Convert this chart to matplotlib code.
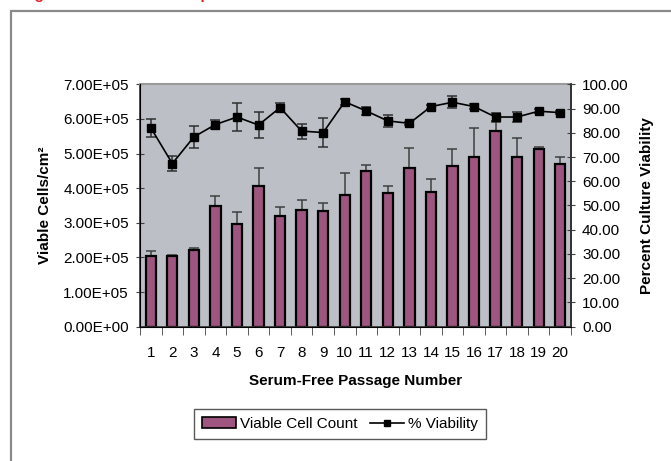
import numpy as np
import matplotlib.pyplot as plt
from matplotlib.patches import Patch, Rectangle
from matplotlib.lines import Line2D

plt.rcParams['font.family'] = ['Liberation Sans', 'DejaVu Sans']

passages = list(range(1, 21))
cells = [2.03, 2.03, 2.21, 3.48, 2.98, 4.05, 3.21, 3.36, 3.33, 3.79,
         4.51, 3.85, 4.59, 3.88, 4.63, 4.91, 5.64, 4.91, 5.12, 4.70]
cells_err = [0.16, 0.05, 0.07, 0.29, 0.34, 0.54, 0.26, 0.30, 0.25, 0.66,
             0.16, 0.22, 0.56, 0.38, 0.49, 0.84, 0.26, 0.55, 0.07, 0.19]
viab = [82.1, 67.3, 78.3, 83.4, 86.5, 83.2, 90.4, 80.7, 80.1, 92.8,
        89.0, 84.9, 83.9, 90.8, 92.6, 90.8, 86.5, 86.5, 88.9, 88.3]
viab_err = [3.7, 3.1, 4.4, 1.8, 5.6, 5.4, 1.9, 3.1, 5.9, 1.2,
            1.5, 2.4, 0.5, 0.8, 2.5, 1.0, 1.5, 2.0, 0.8, 0.7]
left_ticks = [0, 1e5, 2e5, 3e5, 4e5, 5e5, 6e5, 7e5]
right_ticks = [0, 10, 20, 30, 40, 50, 60, 70, 80, 90, 100]

bar_color = '#9e5580'
bg_color = '#bcc0c6'
fs = 11

fig = plt.figure(figsize=(6.71, 4.61), dpi=100)

# outer frame of the pasted figure
fig.patches.append(Rectangle((11 / 671, -0.1), 1.2, 1 - 11 / 461 + 0.1,
                             transform=fig.transFigure, fill=False,
                             edgecolor='#8a8a8a', linewidth=1.6))
# caption above, cut off by the crop: only descenders show
fig.text(21 / 671, 1 + 1.5 / 461, 'Figure 2. Serum-free adaptation',
         color='#e8202a', fontsize=11, fontweight='bold', va='baseline',
         ha='left')

ax = fig.add_axes([140 / 671, 1 - 326.7 / 461, 431 / 671, 242.4 / 461])
ax.set_facecolor(bg_color)
x = np.array(passages)
cells_v = np.array(cells) * 1e5
ax.bar(x, cells_v, width=0.48, color=bar_color, edgecolor='black',
       linewidth=1.6, zorder=2)
ax.errorbar(x, cells_v, yerr=[np.zeros(20), np.array(cells_err) * 1e5],
            fmt='none', ecolor='#404040', elinewidth=1.1, capsize=3.5,
            capthick=1.1, zorder=1.5)
ax.set_ylim(0, 7e5)
ax.set_xlim(0.5, 20.5)
ax.set_yticks(left_ticks)
ax.set_yticklabels(['%.2fE+%02d' % (v / 1e5 if v else 0, 5 if v else 0)
                    for v in left_ticks], fontsize=fs)
ax.set_xticks(passages)
ax.set_xticklabels([str(p) for p in passages], fontsize=fs)
ax.tick_params(axis='x', length=0, pad=14)
ax.set_xticks(np.arange(0.5, 21, 1), minor=True)
ax.tick_params(axis='x', which='minor', length=6, direction='out',
               color='#404040')
ax.tick_params(axis='y', length=6, direction='inout', color='#404040',
               pad=5)
for s in ['left', 'bottom', 'right']:
    ax.spines[s].set_color('#303030')
    ax.spines[s].set_linewidth(1.2)
ax.spines['top'].set_color('#9a9a9a')
ax.spines['top'].set_linewidth(1.5)
ax.set_ylabel('Viable Cells/cm²', fontsize=fs, fontweight='bold', labelpad=8)
ax.set_xlabel('Serum-Free Passage Number', fontsize=fs, fontweight='bold',
              labelpad=10)

ax2 = ax.twinx()
ax2.errorbar(x, viab, yerr=viab_err, color='black', ecolor='#303030',
             elinewidth=1.1, capsize=3.5, capthick=1.1, marker='s',
             markersize=5.5, linewidth=1.2)
ax2.set_ylim(0, 100)
ax2.set_yticks(right_ticks)
ax2.set_yticklabels(['%.2f' % v for v in right_ticks], fontsize=fs)
ax2.tick_params(axis='y', length=6, direction='inout', color='#404040',
                pad=5)
ax2.spines['right'].set_color('#303030')
ax2.spines['right'].set_linewidth(1.2)
ax2.spines['top'].set_visible(False)
ax2.set_ylabel('Percent Culture Viability', fontsize=fs, fontweight='bold',
               labelpad=8)

handles = [Patch(facecolor=bar_color, edgecolor='black', linewidth=1.2),
           Line2D([], [], color='black', marker='s', markersize=5,
                  linewidth=1.2)]
leg = fig.legend(handles, ['Viable Cell Count', '% Viability'], ncol=2,
                 loc='center', bbox_to_anchor=(340 / 671, 1 - 424 / 461),
                 fontsize=fs, frameon=True, fancybox=False,
                 handlelength=2.2, handletextpad=0.3, columnspacing=0.8,
                 borderpad=0.5)
leg.get_frame().set_edgecolor('#303030')
leg.get_frame().set_linewidth(1.0)

fig.savefig('out.png', dpi=100)
